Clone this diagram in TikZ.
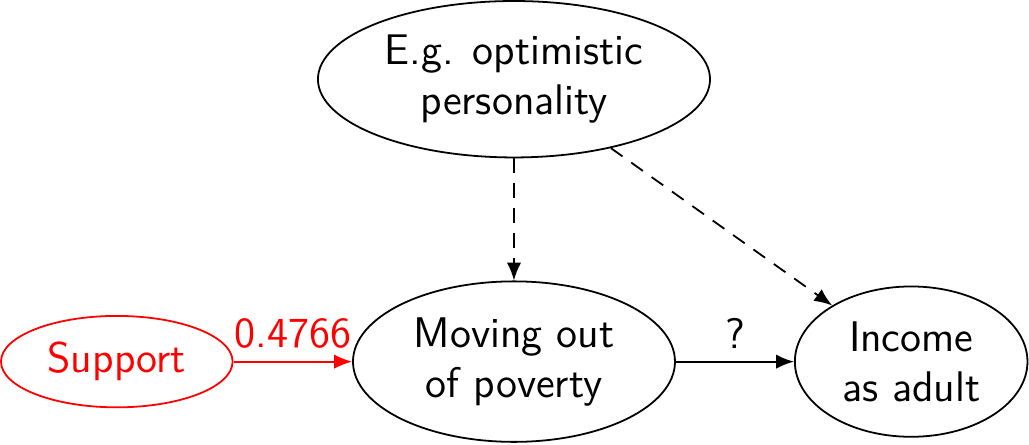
\documentclass[tikz,border=0pt]{standalone}
\usepackage{tikz}
\usetikzlibrary{shapes,arrows.meta}

\begin{document}
\begin{tikzpicture}[->,>={Latex[length=5pt,width=4pt]},line width=0.5pt,node distance=3.91cm,auto]
\tikzstyle{every node} = [font=\sffamily\large]
\tikzstyle{var} = [ellipse, draw, align=center, inner sep=0pt]
\tikzstyle{hidden} = [dash pattern=on 4pt off 3pt]
\useasboundingbox (-5.06,-0.82) rectangle (5.07,3.56);
\node[var, minimum width=3.17cm, minimum height=1.58cm] (mov) {Moving out\\of poverty};
\node[var, red, minimum width=2.28cm, minimum height=0.9cm][left of=mov] (sup) {Support};
\node[var, minimum width=2.29cm, minimum height=1.48cm][right of=mov] (inc) {Income\\as adult};
\node[var, minimum width=3.86cm, minimum height=1.54cm][above of=mov, node distance=2.78cm] (opt) {E.g. optimistic\\personality};
\path (sup) edge[red] node{0.4766} (mov)
      (mov) edge node{?} (inc)
      (opt) edge[hidden] (mov)
            edge[hidden] (inc);
\end{tikzpicture}
\end{document}
